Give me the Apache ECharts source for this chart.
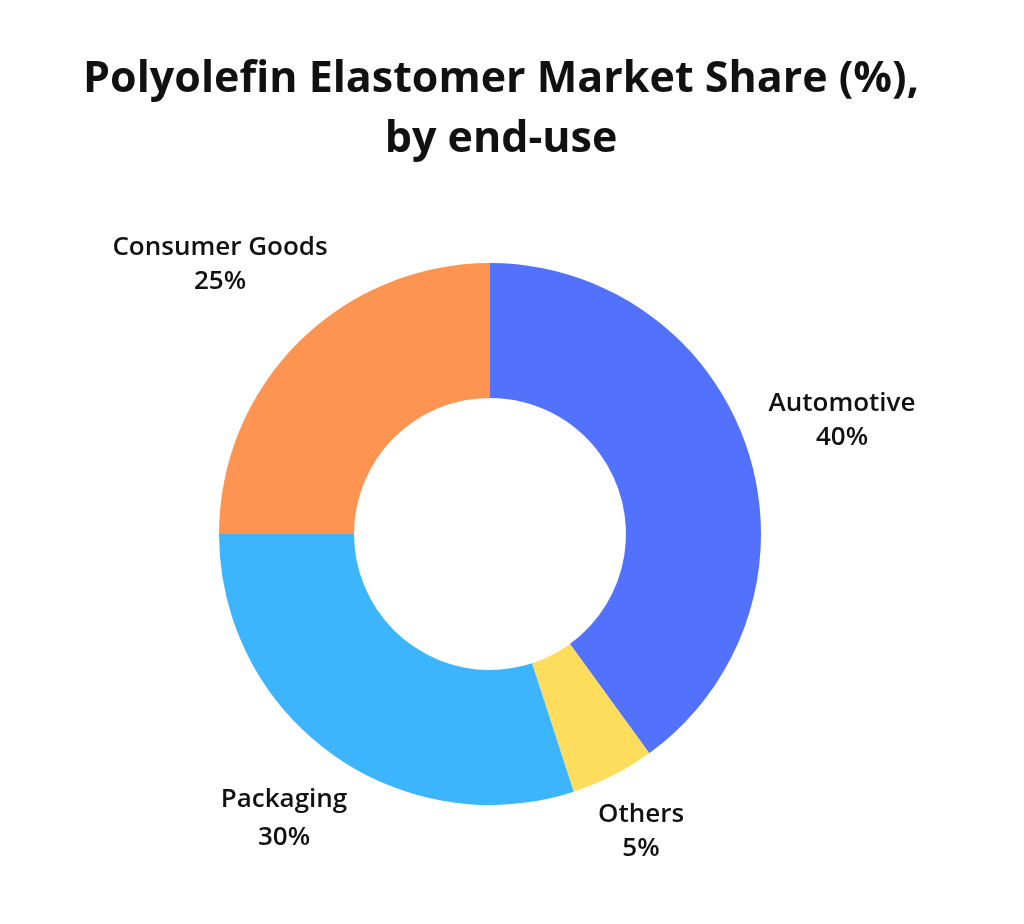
<!DOCTYPE html>
<html>
<head>
<meta charset="utf-8">
<script src="https://cdn.jsdelivr.net/npm/echarts@6/dist/echarts.min.js"></script>
<style>
html,body{margin:0;padding:0;background:#fff;}
#main{width:1024px;height:924px;}
</style>
</head>
<body>
<div id="main"></div>
<script>
const categories = ['Automotive', 'Others', 'Packaging', 'Consumer Goods'];
const shares = [40, 5, 30, 25];
const colors = ['#5272FE', '#FEDC5C', '#3DB5FE', '#FE9452'];
// label centre positions (px)
const labelPos = [[842, 421], [641, 832], [284, 819], [220, 265]];

const FONT = 'Open Sans';
const chart = echarts.init(document.getElementById('main'));
chart.setOption({
  backgroundColor: '#ffffff',
  title: {
    text: 'Polyolefin Elastomer Market Share (%),\nby end-use',
    left: 496,
    textAlign: 'center',
    top: 45,
    textStyle: {
      fontFamily: FONT,
      fontSize: 43,
      fontWeight: 'bold',
      color: '#111111',
      lineHeight: 60
    }
  },
  series: [{
    type: 'pie',
    center: [490, 534],
    radius: [136, 271],
    startAngle: 90,
    clockwise: true,
    avoidLabelOverlap: false,
    label: {
      show: true,
      position: 'outside',
      formatter: '{b}\n{c}%',
      fontFamily: FONT,
      fontSize: 26,
      fontWeight: 600,
      color: '#111111',
      lineHeight: 34,
      align: 'center'
    },
    labelLine: { show: false },
    labelLayout: function (p) {
      const pos = labelPos[p.dataIndex];
      return { x: pos[0], y: pos[1], align: 'center', verticalAlign: 'middle' };
    },
    emphasis: { disabled: true },
    data: categories.map((c, i) => ({
      name: c,
      value: shares[i],
      itemStyle: { color: colors[i] },
      label: c === 'Packaging' ? { lineHeight: 38 } : {}
    }))
  }]
});
</script>
</body>
</html>
